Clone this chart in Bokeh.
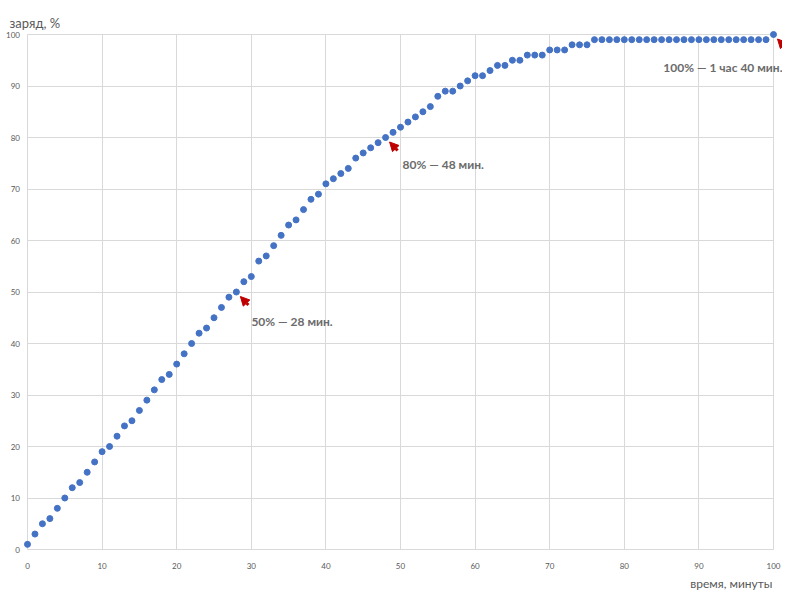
from bokeh.plotting import figure
from bokeh.models import Range1d, SingleIntervalTicker, Arrow, NormalHead, ColumnDataSource
from bokeh.core.properties import value
from bokeh.embed import file_html
from bokeh.resources import INLINE

# ---- data ----
minutes = list(range(0, 101))
charge = [1, 3, 5, 6, 8, 10, 12, 13, 15, 17,
          19, 20, 22, 24, 25, 27, 29, 31, 33, 34,
          36, 38, 40, 42, 43, 45, 47, 49, 50, 52,
          53, 56, 57, 59, 61, 63, 64, 66, 68, 69,
          71, 72, 73, 74, 76, 77, 78, 79, 80, 81,
          82, 83, 84, 85, 86, 88, 89, 89, 90, 91,
          92, 92, 93, 94, 94, 95, 95, 96, 96, 96,
          97, 97, 97, 98, 98, 98,
          99, 99, 99, 99, 99, 99, 99, 99, 99, 99, 99, 99,
          99, 99, 99, 99, 99, 99, 99, 99, 99, 99, 99, 99,
          100]
x_ticks = [0, 10, 20, 30, 40, 50, 60, 70, 80, 90, 100]
x_tick_labels = ["0", "10", "20", "30", "40", "50", "60", "70", "80", "90", "100"]
y_ticks = [0, 10, 20, 30, 40, 50, 60, 70, 80, 90, 100]
y_tick_labels = ["0", "10", "20", "30", "40", "50", "60", "70", "80", "90", "100"]
ann_minutes = [28, 48, 100]
ann_texts = ["50% — 28 мин.", "80% — 48 мин.", "100% — 1 час 40 мин."]
x_title = "время, минуты"
y_title = "заряд, %"

FONT = "Lato"
GRID = "#d9d9d9"
TXT = "#595959"
BLUE = "#4472C4"
RED = "#C00000"

# ---- layout: frame covers whole canvas; axis 0..100 placed by pixel targets ----
W, H = 782, 592
X_LEFT_PX, X_RIGHT_PX = 27, 773      # pixel of x=0 and x=100
Y_TOP_PX, Y_BOTTOM_PX = 34, 549      # pixel of y=100 and y=0
sx = (X_RIGHT_PX - X_LEFT_PX) / 100.0
sy = (Y_BOTTOM_PX - Y_TOP_PX) / 100.0
x0 = -X_LEFT_PX / sx
y1 = 100 + Y_TOP_PX / sy

p = figure(width=W, height=H, output_backend="svg", toolbar_location=None,
           x_range=Range1d(x0, x0 + W / sx), y_range=Range1d(y1 - H / sy, y1),
           x_axis_location=None, y_axis_location=None,
           min_border=0, min_border_left=0, min_border_right=0,
           min_border_top=0, min_border_bottom=0)
p.outline_line_color = None
p.background_fill_color = "white"
p.border_fill_color = "white"

p.xgrid.ticker = SingleIntervalTicker(interval=10)
p.ygrid.ticker = SingleIntervalTicker(interval=10)
p.grid.grid_line_color = GRID
p.grid.grid_line_width = 1
p.xgrid.bounds = (0, 100)
p.ygrid.bounds = (0, 100)
p.xgrid.cross_bounds = (0, 100)
p.ygrid.cross_bounds = (0, 100)

# tick labels
p.text(x=x_ticks, y=[y_ticks[0]] * len(x_ticks), text=x_tick_labels, y_offset=16,
       text_align="center", text_baseline="middle", text_font=value(FONT),
       text_font_size="8px", text_color=TXT)
p.text(x=[x_ticks[0]] * len(y_ticks), y=y_ticks, text=y_tick_labels, x_offset=-7.5,
       text_align="right", text_baseline="middle", text_font=value(FONT),
       text_font_size="8px", text_color=TXT)

# axis titles
p.text(x=[x_ticks[0]], y=[y_ticks[-1]], text=[y_title], x_offset=-18, y_offset=-12,
       text_align="left", text_baseline="alphabetic", text_font=value(FONT),
       text_font_size="13px", text_color=TXT)
p.text(x=[x_ticks[-1]], y=[y_ticks[0]], text=[x_title], x_offset=-1, y_offset=34,
       text_align="right", text_baseline="alphabetic", text_font=value(FONT),
       text_font_size="12px", text_color=TXT)

# data points
src = ColumnDataSource(dict(x=minutes, y=charge))
p.scatter("x", "y", source=src, size=6, fill_color=BLUE, line_color=BLUE)

# annotations (layout offsets in pixels)
label_layout = [(15, 29, "left"), (17, 27, "left"), (9, 33, "right")]
for m, txt, (ox, oy, al) in zip(ann_minutes, ann_texts, label_layout):
    yv = charge[minutes.index(m)]
    p.text(x=[m], y=[yv], text=[txt], x_offset=ox, y_offset=oy,
           text_align=al, text_baseline="alphabetic", text_font=value(FONT),
           text_font_size="12px", text_font_style="bold", text_color="#6b6b6b")
    tip = (4, 4.5)
    tail = (12, 13)
    p.add_layout(Arrow(x_start=m + tail[0] / sx, y_start=yv - tail[1] / sy,
                       x_end=m + tip[0] / sx, y_end=yv - tip[1] / sy,
                       line_color=RED, line_width=3,
                       end=NormalHead(size=9, fill_color=RED, line_color=RED,
                                      line_width=1)))

open("out.html", "w").write(file_html(p, INLINE))
